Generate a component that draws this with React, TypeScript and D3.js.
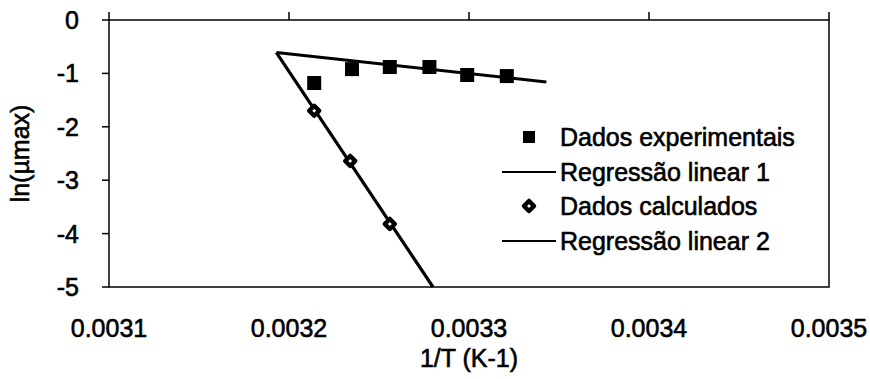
import React from "react";
import * as d3 from "d3";

const expX = [0.003214, 0.003235, 0.003256, 0.003278, 0.003299, 0.003321];
const expY = [-1.18, -0.92, -0.88, -0.88, -1.03, -1.05];
const calcX = [0.003214, 0.003234, 0.003256];
const calcY = [-1.7, -2.64, -3.82];
const reg1X = [0.003193, 0.003343];
const reg1Y = [-0.61, -1.16];
const reg2X = [0.003193, 0.00328];
const reg2Y = [-0.61, -5.0];
const xTicks = [0.0031, 0.0032, 0.0033, 0.0034, 0.0035];
const yTicks = [0, -1, -2, -3, -4, -5];
const legendLabels = ["Dados experimentais", "Regressão linear 1", "Dados calculados", "Regressão linear 2"];

const W = 870;
const H = 379;
const left = 109, right = 829, top = 20, bottom = 287;
const FONT = "'Liberation Sans', Arial, sans-serif";
const TS = 0.6; // text thickening stroke (scanned look)

export default function App() {
  const x = d3.scaleLinear().domain([0.0031, 0.0035]).range([left, right]);
  const y = d3.scaleLinear().domain([-5, 0]).range([bottom, top]);
  const line = d3.line<[number, number]>().x(d => x(d[0])).y(d => y(d[1]));
  const reg1 = line(reg1X.map((v, i) => [v, reg1Y[i]] as [number, number])) || "";
  const reg2 = line(reg2X.map((v, i) => [v, reg2Y[i]] as [number, number])) || "";
  const sq = 14;
  const dm = 5;
  const diamond = (cx: number, cy: number) =>
    `M${cx},${cy - dm}L${cx + dm},${cy}L${cx},${cy + dm}L${cx - dm},${cy}Z`;

  const legRowY = [137, 172, 206, 241];
  const legLineX0 = 502, legLineX1 = 556, legMarkX = 529, legTextX = 560;

  return (
    <div style={{ position: "absolute", left: 0, top: 0 }}>
      <svg width={W} height={H} style={{ display: "block", background: "#fff" }} fontFamily={FONT}>
        <rect x={0} y={0} width={W} height={H} fill="#fff" />
        {/* plot frame */}
        <rect x={left} y={top} width={right - left} height={bottom - top} fill="none" stroke="#000" strokeWidth={1.5} />
        {/* x ticks on top axis */}
        {xTicks.map((t, i) => (
          <line key={"xt" + i} x1={x(t)} x2={x(t)} y1={top - 8} y2={top} stroke="#000" strokeWidth={1.5} />
        ))}
        {xTicks.map((t, i) => (
          <text key={"xl" + i} x={x(t)} y={337} textAnchor="middle" fontSize={25} fill="#000" stroke="#000" strokeWidth={TS}>
            {d3.format(".4f")(t)}
          </text>
        ))}
        {/* y ticks */}
        {yTicks.map((t, i) => (
          <line key={"yt" + i} x1={left - 7} x2={left} y1={y(t)} y2={y(t)} stroke="#000" strokeWidth={1.5} />
        ))}
        {yTicks.map((t, i) => (
          <text key={"yl" + i} x={79} y={y(t)} dy="0.36em" textAnchor="end" fontSize={25} fill="#000" stroke="#000" strokeWidth={TS}>
            {String(t)}
          </text>
        ))}
        {/* axis titles */}
        <text x={(left + right) / 2} y={367} textAnchor="middle" fontSize={25} fill="#000" stroke="#000" strokeWidth={TS}>1/T (K-1)</text>
        <text transform={`translate(29,${(top + bottom) / 2}) rotate(-90)`} textAnchor="middle" fontSize={25} fill="#000" stroke="#000" strokeWidth={TS}>ln(µmax)</text>
        {/* regression lines */}
        <path d={reg1} stroke="#000" strokeWidth={3} fill="none" />
        <path d={reg2} stroke="#000" strokeWidth={3.2} fill="none" />
        {/* experimental squares */}
        {expX.map((v, i) => (
          <rect key={"e" + i} x={x(v) - sq / 2} y={y(expY[i]) - sq / 2} width={sq} height={sq} fill="#000" />
        ))}
        {/* calculated diamonds */}
        {calcX.map((v, i) => (
          <path key={"c" + i} d={diamond(x(v), y(calcY[i]))} fill="#fff" stroke="#000" strokeWidth={4.5} strokeLinejoin="round" />
        ))}
        {/* legend */}
        <rect x={legMarkX - 6} y={legRowY[0] - 6} width={12} height={12} fill="#000" />
        <line x1={legLineX0} x2={legLineX1} y1={legRowY[1]} y2={legRowY[1]} stroke="#000" strokeWidth={2} />
        <path d={diamond(legMarkX, legRowY[2])} fill="#fff" stroke="#000" strokeWidth={4.5} strokeLinejoin="round" />
        <line x1={legLineX0} x2={legLineX1} y1={legRowY[3]} y2={legRowY[3]} stroke="#000" strokeWidth={2} />
        {legendLabels.map((l, i) => (
          <text key={"lg" + i} x={legTextX} y={legRowY[i]} dy="0.36em" fontSize={25} fill="#000" stroke="#000" strokeWidth={TS}>{l}</text>
        ))}
      </svg>
    </div>
  );
}
